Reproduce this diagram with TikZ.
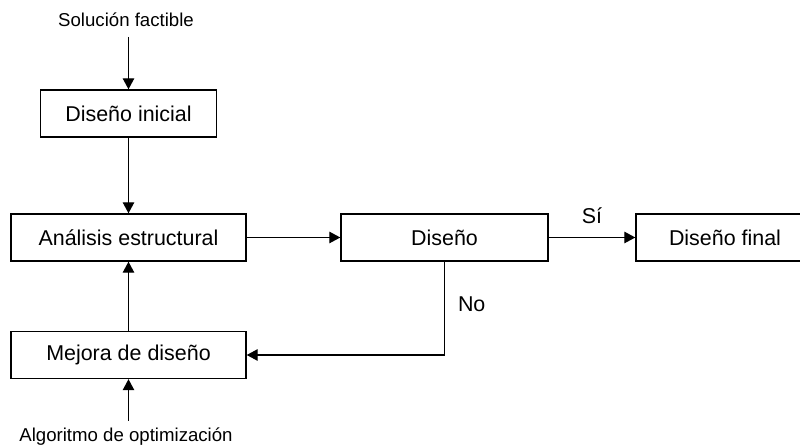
\documentclass[tikz,border=0pt]{standalone}
\usepackage{fontspec}
\setmainfont{Liberation Sans}
\usetikzlibrary{arrows.meta}
\tikzset{
  caja/.style={draw, line width=0.8pt, minimum height=0.94cm, font=\fontsize{12.2}{14}\selectfont},
  flecha/.style={line width=0.7pt, -{Triangle[length=2.2mm,width=2.3mm]}},
  rotulo/.style={font=\fontsize{10.6}{12}\selectfont},
  marca/.style={font=\fontsize{12.2}{14}\selectfont}
}
\begin{document}
\begin{tikzpicture}
\useasboundingbox (0,0) rectangle (16,8.9);
\node [rotulo] (sol) at (2.52,8.5) {Solución factible};
\node [caja, minimum width=3.52cm] (ini) at (2.57,6.63) {Diseño inicial};
\node [caja, minimum width=4.7cm] (ana) at (2.57,4.15) {Análisis estructural};
\node [caja, minimum width=4.14cm] (dis) at (8.89,4.15) {Diseño};
\node [caja, minimum width=3.56cm] (fin) at (14.5,4.15) {Diseño final};
\node [caja, minimum width=4.7cm] (mej) at (2.57,1.80) {Mejora de diseño};
\node [rotulo] (alg) at (2.52,0.16) {Algoritmo de optimización};
\coordinate (solin) at (2.57,8.16);
\coordinate (algin) at (2.57,0.48);
\coordinate (esq) at (8.89,1.80);
\draw [flecha] (solin) -- (ini);
\draw [flecha] (ini) -- (ana);
\draw [flecha] (ana) -- (dis);
\draw [flecha] (dis) -- node [above=4pt, marca] {Sí} (fin);
\draw [flecha] (dis.south) -- node [right=4pt, pos=0.46, marca] {No} (esq) -- (mej);
\draw [flecha] (mej) -- (ana);
\draw [flecha] (algin) -- (mej);
\end{tikzpicture}
\end{document}
